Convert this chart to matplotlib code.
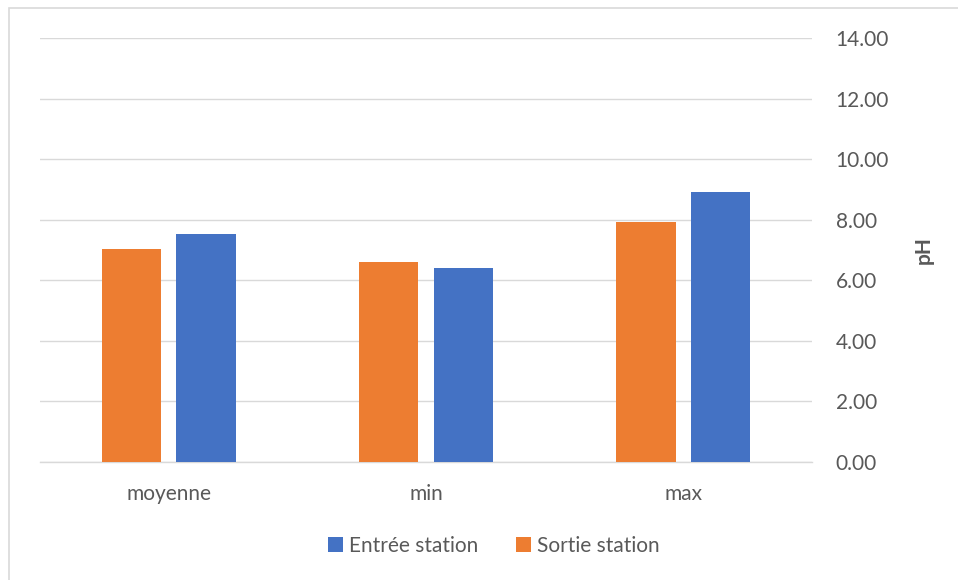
import matplotlib.pyplot as plt
import numpy as np
from matplotlib.patches import Rectangle

categories = ["moyenne", "min", "max"]
sortie = [7.02, 6.60, 7.92]
entree = [7.52, 6.40, 8.91]
yticks = [0, 2, 4, 6, 8, 10, 12, 14]

plt.rcParams['font.family'] = ['Lato', 'DejaVu Sans']
txt = '#595959'
orange = '#ED7D31'
blue = '#4472C4'
fs = 15

fig = plt.figure(figsize=(9.58, 5.8), dpi=100)
# light chart border
fig.patches.append(Rectangle((9 / 958, -0.05), 1.0, 1 - 8 / 580 + 0.05,
                             transform=fig.transFigure, fill=False,
                             edgecolor='#D9D9D9', linewidth=1.2))

ax = fig.add_axes([40 / 958, 1 - 462 / 580, 772 / 958, 424 / 580])
x = np.arange(len(categories))
w = 0.23
gap = 0.06
ax.bar(x - (w + gap) / 2, sortie, width=w, color=orange, label="Sortie station", zorder=3)
ax.bar(x + (w + gap) / 2, entree, width=w, color=blue, label="Entrée station", zorder=3)

ax.set_xlim(-0.5, 2.5)
ax.set_ylim(0, 14)
ax.yaxis.tick_right()
ax.yaxis.set_label_position('right')
ax.set_yticks(yticks)
ax.set_yticklabels(["%.2f" % v for v in yticks])
ax.set_xticks(x)
ax.set_xticklabels(categories)
ax.tick_params(axis='both', length=0, labelsize=fs, colors=txt)
ax.tick_params(axis='y', pad=17)
ax.tick_params(axis='x', pad=16)
ax.grid(axis='y', color='#D9D9D9', linewidth=1, zorder=0)
for s in ['top', 'left', 'right']:
    ax.spines[s].set_visible(False)
ax.spines['bottom'].set_color('#D9D9D9')
ax.spines['bottom'].set_linewidth(1)
ax.set_ylabel("pH", fontsize=fs, fontweight='bold', color=txt, rotation=90, labelpad=18)

h, l = ax.get_legend_handles_labels()
fig.legend(h[::-1], l[::-1], loc='center', bbox_to_anchor=(494 / 958, 1 - 546 / 580),
           ncol=2, frameon=False, fontsize=fs, labelcolor=txt,
           handlelength=0.7, handleheight=0.7, handletextpad=0.3, columnspacing=1.8)

fig.savefig("out.png", dpi=100)
